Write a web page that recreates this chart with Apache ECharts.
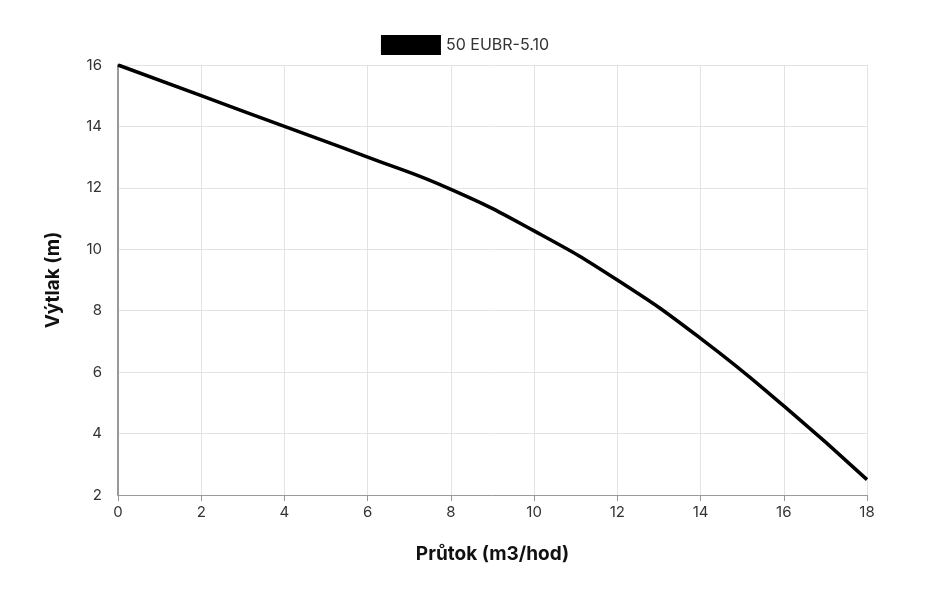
<!DOCTYPE html>
<html><head><meta charset="utf-8">
<script src="https://cdn.jsdelivr.net/npm/echarts@6/dist/echarts.min.js"></script>
<style>html,body{margin:0;padding:0;background:#fff}#c{width:930px;height:596px}</style>
</head><body><div id="c"></div>
<script>
const seriesName = '50 EUBR-5.10';
const flow = [0, 2, 4, 6, 8, 10, 12, 14, 16, 18];
const head = [16, 15, 14, 13, 11.95, 10.6, 9.0, 7.1, 4.9, 2.5];
const chart = echarts.init(document.getElementById('c'));
const font = 'Inter';
chart.setOption({
  animation: false,
  legend: {
    top: 30, left: 'center', itemWidth: 60, itemHeight: 20, itemGap: 8,
    icon: 'rect',
    textStyle: {fontFamily: font, fontSize: 16, color: '#333'},
    data: [{name: seriesName, itemStyle: {color: '#000'}}]
  },
  grid: {left: 118, right: 63, top: 65, bottom: 101},
  xAxis: {
    type: 'value', min: 0, max: 18, interval: 2,
    name: 'Průtok (m3/hod)', nameLocation: 'middle', nameGap: 50,
    nameTextStyle: {fontFamily: font, fontSize: 19, fontWeight: 'bold', color: '#111'},
    axisLine: {show: true, lineStyle: {color: '#999'}},
    axisTick: {show: true, length: 6, lineStyle: {color: '#999'}},
    axisLabel: {fontFamily: font, fontSize: 15, color: '#333', margin: 10},
    splitLine: {show: true, lineStyle: {color: '#e3e3e3'}}
  },
  yAxis: {
    type: 'value', min: 2, max: 16, interval: 2,
    name: 'Výtlak (m)', nameLocation: 'middle', nameGap: 55,
    nameTextStyle: {fontFamily: font, fontSize: 19, fontWeight: 'bold', color: '#111'},
    axisLine: {show: true, lineStyle: {color: '#999', width: 2}},
    axisTick: {show: false},
    axisLabel: {fontFamily: font, fontSize: 15, color: '#333', margin: 16},
    splitLine: {show: true, lineStyle: {color: '#e3e3e3'}}
  },
  series: [{
    name: seriesName, type: 'line', smooth: true, showSymbol: false,
    lineStyle: {color: '#000', width: 3.5}, itemStyle: {color: '#000'},
    data: flow.map((f, i) => [f, head[i]])
  }]
});
</script></body></html>
